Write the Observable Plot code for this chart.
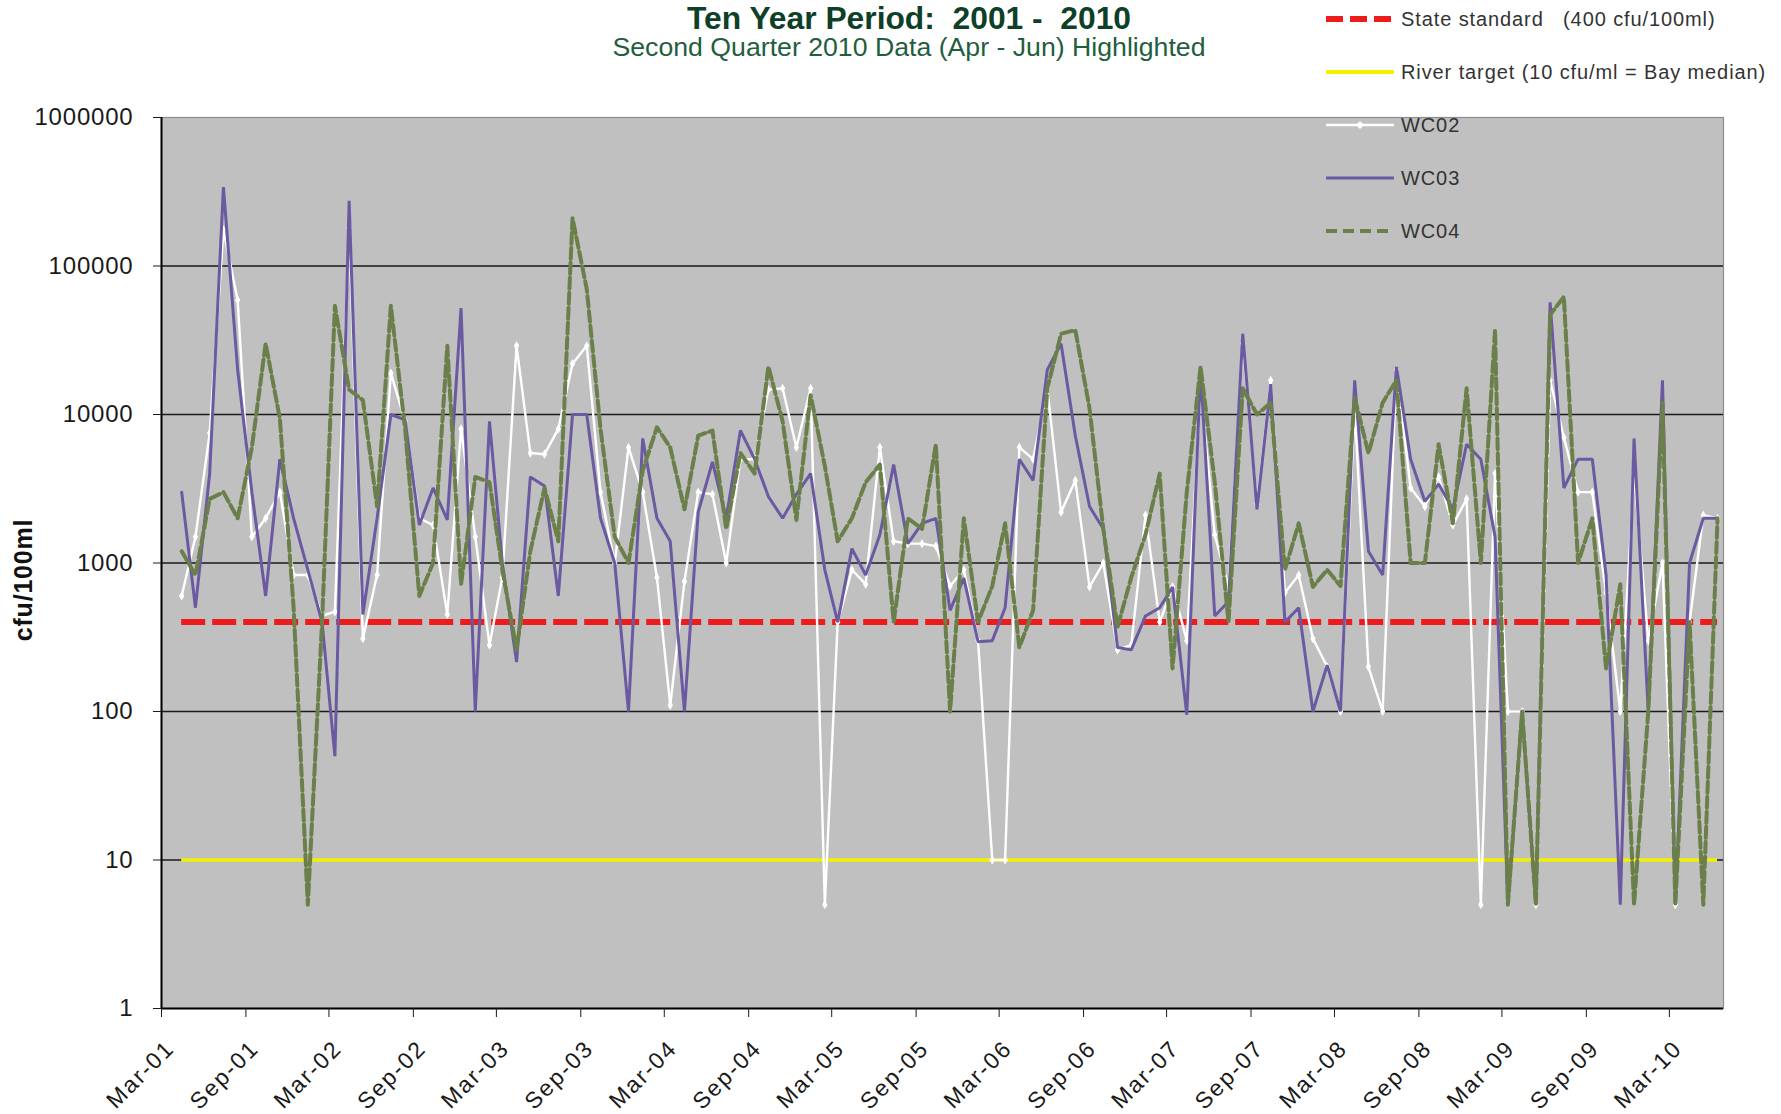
<!DOCTYPE html>
<html>
<head>
<meta charset="utf-8">
<script src="https://cdn.jsdelivr.net/npm/d3@7"></script>
<script src="https://cdn.jsdelivr.net/npm/@observablehq/plot@0.6"></script>
<style>
  body { margin: 0; background: #fff; }
  #wrap { position: relative; width: 1781px; height: 1114px; overflow: hidden; background: #fff; }
  #chart { position: absolute; left: 0; top: 0; }
  #overlay { position: absolute; left: 0; top: 0; pointer-events: none; }
  #overlay text { font-family: "Liberation Sans", Arial, sans-serif; white-space: pre; }
  #chart g[aria-label="y-axis tick label"] text { letter-spacing: 0.8px; }
  #chart g[aria-label="x-axis tick label"] text { letter-spacing: 2px; }
</style>
</head>
<body>
<div id="wrap">
  <div id="chart"></div>
  <svg id="overlay" width="1781" height="1114">
    <text x="909" y="29" text-anchor="middle" font-size="31" font-weight="bold" fill="#0e3f28" textLength="444" lengthAdjust="spacingAndGlyphs">Ten Year Period:  2001 -  2010</text>
    <text x="909" y="56" text-anchor="middle" font-size="25" fill="#1f5e3e" textLength="593" lengthAdjust="spacingAndGlyphs">Second Quarter 2010 Data (Apr - Jun) Highlighted</text>
    <text transform="translate(32,580) rotate(-90)" text-anchor="middle" font-size="25" font-weight="bold" fill="#111" letter-spacing="0.8">cfu/100ml</text>
    <g id="legend"></g>
  </svg>
</div>
<script>
// ---------------- data ----------------
const months = [
  "2001-04","2001-05","2001-06","2001-07","2001-08","2001-09","2001-10","2001-11","2001-12",
  "2002-01","2002-02","2002-03","2002-04","2002-05","2002-06","2002-07","2002-08","2002-09","2002-10","2002-11","2002-12",
  "2003-01","2003-02","2003-03","2003-04","2003-05","2003-06","2003-07","2003-08","2003-09","2003-10","2003-11","2003-12",
  "2004-01","2004-02","2004-03","2004-04","2004-05","2004-06","2004-07","2004-08","2004-09","2004-10","2004-11","2004-12",
  "2005-01","2005-02","2005-03","2005-04","2005-05","2005-06","2005-07","2005-08","2005-09","2005-10","2005-11","2005-12",
  "2006-01","2006-02","2006-03","2006-04","2006-05","2006-06","2006-07","2006-08","2006-09","2006-10","2006-11","2006-12",
  "2007-01","2007-02","2007-03","2007-04","2007-05","2007-06","2007-07","2007-08","2007-09","2007-10","2007-11","2007-12",
  "2008-01","2008-02","2008-03","2008-04","2008-05","2008-06","2008-07","2008-08","2008-09","2008-10","2008-11","2008-12",
  "2009-01","2009-02","2009-03","2009-04","2009-05","2009-06","2009-07","2009-08","2009-09","2009-10","2009-11","2009-12",
  "2010-01","2010-02","2010-03","2010-04","2010-05","2010-06"
];

const wc02 = [
  600, 1500, 7500, 175000, 59000, 1500, 2000, 3000, 830,
  830, 440, 470, 180000, 310, 830, 19000, 9000, 2000, 1800, 450, 8000,
  1500, 280, 800, 29000, 5500, 5400, 8000, 22000, 29000, 3000, 1000, 6000,
  3000, 800, 110, 750, 3000, 2900, 1000, 5000, 5000, 14700, 15000, 6000,
  15000, 5, 400, 900, 720, 6000, 1400, 1350, 1350, 1300, 700, 900,
  300, 10, 10, 6000, 5000, 15000, 2200, 3600, 690, 1000, 260, 280,
  2100, 400, 690, 300, 15000, 1550, 690, 30000, 2500, 17000, 630, 830,
  310, 200, 100, 11000, 200, 100, 20000, 3200, 2400, 3800, 1800, 2700,
  5, 4000, 100, 100, 5, 17000, 7000, 3000, 3000, 630, 100, 4000,
  300, 1000, 5, 400, 2100, 2000
];

const wc03 = [
  3000, 500, 4000, 340000, 20000, 3000, 600, 5000, 2000,
  900, 400, 50, 275000, 450, 2000, 10000, 9200, 1800, 3200, 1950, 52000,
  100, 9000, 1000, 215, 3800, 3300, 600, 10000, 10000, 2000, 1000, 100,
  6900, 2000, 1400, 100, 2200, 4800, 2000, 7800, 5000, 2800, 2000, 2900,
  4000, 900, 400, 1250, 830, 1550, 4600, 1350, 1850, 2000, 480, 790,
  295, 300, 500, 5000, 3600, 20000, 30000, 7200, 2400, 1700, 270, 260,
  440, 500, 690, 95, 20000, 440, 550, 35000, 2300, 16000, 400, 500,
  100, 205, 100, 17000, 1200, 830, 21000, 5000, 2600, 3400, 2300, 6300,
  5000, 1500, 5, 100, 5, 57000, 3200, 5000, 5000, 830, 5, 6900,
  100, 17000, 5, 1000, 2000, 2000
];

const wc04 = [
  1200, 830, 2700, 3000, 2000, 6000, 30000, 9400, 500,
  5, 400, 54000, 14700, 12500, 2400, 54000, 8000, 600, 1000, 29000, 720,
  3800, 3500, 900, 260, 1200, 3200, 1400, 210000, 70000, 8000, 1500, 1000,
  4200, 8200, 6000, 2300, 7200, 7800, 1700, 5500, 4000, 21000, 9000, 1950,
  13500, 4500, 1400, 2000, 3500, 4600, 400, 2000, 1700, 6300, 100, 2000,
  400, 700, 1850, 270, 480, 15000, 35000, 37000, 11000, 1700, 370, 800,
  1550, 4000, 195, 3000, 21000, 3500, 400, 15000, 10000, 12000, 900, 1850,
  690, 900, 700, 13000, 5500, 12000, 17000, 1000, 1000, 6300, 1850, 15000,
  1000, 37000, 5, 100, 5, 47000, 62000, 1000, 2000, 195, 720, 5,
  100, 12000, 5, 400, 5, 2000
];

const stateStandard = 400;   // cfu/100ml
const riverTarget = 10;      // cfu/ml = Bay median

const yTicks = [1, 10, 100, 1000, 10000, 100000, 1000000];
const xTickDates = ["2001-03","2001-09","2002-03","2002-09","2003-03","2003-09","2004-03","2004-09",
  "2005-03","2005-09","2006-03","2006-09","2007-03","2007-09","2008-03","2008-09","2009-03","2009-09","2010-03"];
const xTickLabels = ["Mar-01","Sep-01","Mar-02","Sep-02","Mar-03","Sep-03","Mar-04","Sep-04",
  "Mar-05","Sep-05","Mar-06","Sep-06","Mar-07","Sep-07","Mar-08","Sep-08","Mar-09","Sep-09","Mar-10"];
const xDomain = ["2001-03-01", "2010-06-27"];

const legendItems = [
  {key: "state", label: "State standard   (400 cfu/100ml)"},
  {key: "river", label: "River target (10 cfu/ml = Bay median)"},
  {key: "wc02", label: "WC02"},
  {key: "wc03", label: "WC03"},
  {key: "wc04", label: "WC04"}
];

// ---------------- styles ----------------
const C = {
  state: "#ec1c1c", river: "#f2f200", wc02: "#ffffff", wc03: "#6b5aa2", wc04: "#6a7f4a",
  bg: "#c0c0c0", grid: "#1a1a1a"
};

// ---------------- build ----------------
const utc = s => new Date(s + "T00:00:00Z");
const dates = months.map(m => utc(m + "-14"));
const rows = arr => arr.map((v, i) => ({date: dates[i], v}));
const tickDates = xTickDates.map(m => utc(m + "-01"));
const labelOf = new Map(tickDates.map((d, i) => [+d, xTickLabels[i]]));
const first = dates[0], last = dates[dates.length - 1];

const chart = Plot.plot({
  width: 1781,
  height: 1114,
  marginLeft: 161,
  marginRight: 58,
  marginTop: 117,
  marginBottom: 106,
  style: {fontFamily: "'Liberation Sans', Arial, sans-serif", fontSize: "22px", color: "#1a1a1a", background: "transparent", overflow: "visible"},
  x: {type: "utc", domain: xDomain.map(utc)},
  y: {type: "log", domain: [1, 1000000]},
  marks: [
    Plot.frame({fill: C.bg, stroke: "#8c8c8c", strokeWidth: 1.2}),
    Plot.gridY(yTicks.slice(1, -1), {stroke: C.grid, strokeOpacity: 1, strokeWidth: 1.3}),
    Plot.ruleY([{y: stateStandard, x1: first, x2: last}], {y: "y", x1: "x1", x2: "x2", stroke: C.state, strokeWidth: 6, strokeDasharray: "24,7"}),
    Plot.ruleY([{y: riverTarget, x1: first, x2: last}], {y: "y", x1: "x1", x2: "x2", stroke: C.river, strokeWidth: 3.5}),
    Plot.line(rows(wc02), {x: "date", y: "v", stroke: C.wc02, strokeWidth: 2.4, strokeLinejoin: "round"}),
    Plot.dot(rows(wc02), {x: "date", y: "v", symbol: "diamond", r: 2.8, fill: C.wc02, stroke: null}),
    Plot.line(rows(wc03), {x: "date", y: "v", stroke: C.wc03, strokeWidth: 3, strokeLinejoin: "miter"}),
    Plot.line(rows(wc04), {x: "date", y: "v", stroke: C.wc04, strokeWidth: 4, strokeDasharray: "11,4"}),
    Plot.ruleY([1], {stroke: "#000", strokeWidth: 2}),
    Plot.ruleX([utc(xDomain[0])], {stroke: "#000", strokeWidth: 2}),
    Plot.axisY({ticks: yTicks, tickFormat: d => String(d), tickSize: 8, tickPadding: 20, fontSize: 24, label: null}),
    // tick marks (no text)
    Plot.axisX({ticks: tickDates, tickFormat: () => "", tickSize: 9, label: null}),
    // rotated tick labels, nudged right of the tick
    Plot.axisX({ticks: tickDates, tickFormat: d => labelOf.get(+d), tickRotate: -45, tickSize: 0, tickPadding: 36, dx: 9, fontSize: 23, label: null})
  ]
});
document.getElementById("chart").appendChild(chart);

// ---------------- legend ----------------
const ns = "http://www.w3.org/2000/svg";
const lg = document.getElementById("legend");
const legendY0 = 19, legendStep = 53, sx1 = 1326, sx2 = 1394, tx = 1401;
const swatchStyle = {
  state: {stroke: C.state, width: 6, dash: "17,7"},
  river: {stroke: C.river, width: 4, dash: null},
  wc02: {stroke: C.wc02, width: 2.4, dash: null, marker: true},
  wc03: {stroke: C.wc03, width: 3, dash: null},
  wc04: {stroke: C.wc04, width: 4, dash: "11,6"}
};
legendItems.forEach((it, k) => {
  const y = legendY0 + k * legendStep;
  const s = swatchStyle[it.key];
  const ln = document.createElementNS(ns, "line");
  ln.setAttribute("x1", sx1); ln.setAttribute("x2", sx2);
  ln.setAttribute("y1", y); ln.setAttribute("y2", y);
  ln.setAttribute("stroke", s.stroke); ln.setAttribute("stroke-width", s.width);
  if (s.dash) ln.setAttribute("stroke-dasharray", s.dash);
  lg.appendChild(ln);
  if (s.marker) {
    const m = document.createElementNS(ns, "path");
    const cx = (sx1 + sx2) / 2;
    m.setAttribute("d", `M${cx},${y-4}L${cx+4},${y}L${cx},${y+4}L${cx-4},${y}Z`);
    m.setAttribute("fill", s.stroke);
    lg.appendChild(m);
  }
  const t = document.createElementNS(ns, "text");
  t.setAttribute("x", tx); t.setAttribute("y", y + 7);
  t.setAttribute("font-size", "20"); t.setAttribute("fill", "#333");
  t.setAttribute("letter-spacing", "0.9");
  t.textContent = it.label;
  lg.appendChild(t);
});
</script>
</body>
</html>
